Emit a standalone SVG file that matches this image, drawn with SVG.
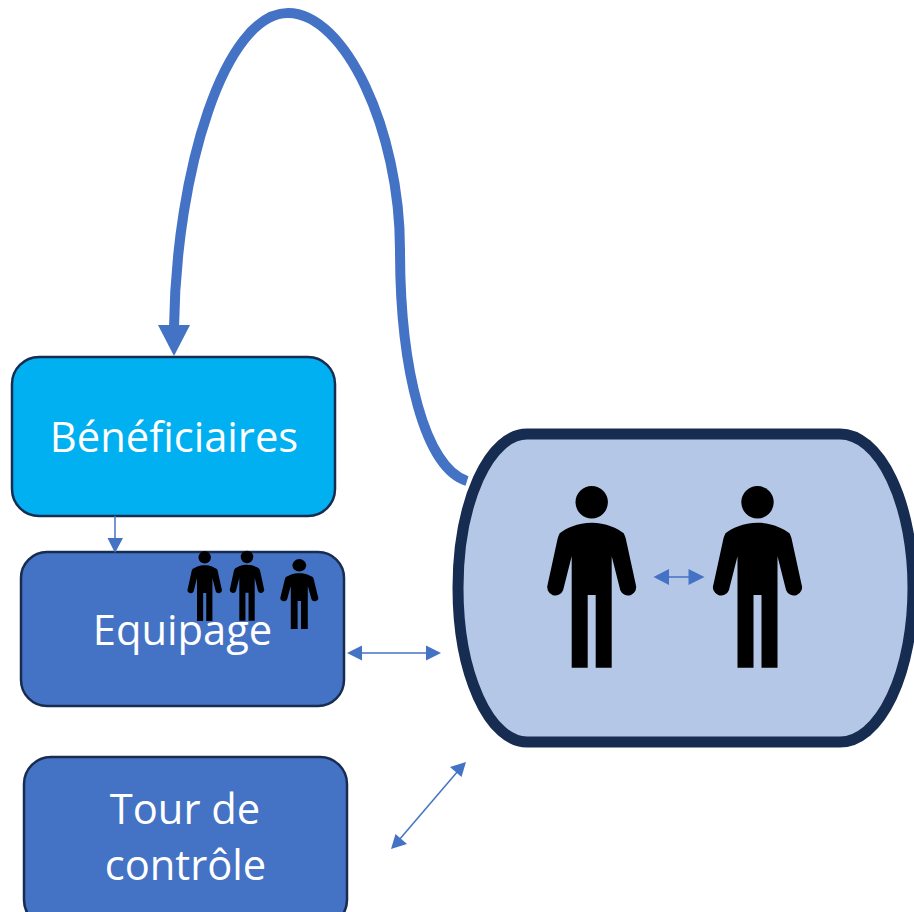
<svg xmlns="http://www.w3.org/2000/svg" width="914" height="912" viewBox="0 0 914 912">
<style>
.box{stroke:#172c51;stroke-width:2.5}
.lbl{font-family:"Open Sans","Noto Sans","Liberation Sans",sans-serif;font-size:41.700px;fill:#fff;text-anchor:middle}
.thin{fill:none;stroke:#4472c4;stroke-width:1.5}
.head{fill:#4472c4}
</style>
<defs>
<g id="person">
<circle cx="0" cy="0" r="16.200" fill="#000"/>
<path fill="#000" d="M0 20.400C-14 20.400-26 26-32 31Q-33 33-34 36L-44 82A8 8 0 0 0-28.600 88L-20 54V165.400H-4V92.700H4V165.400H20V54L28.600 88A8 8 0 0 0 44 82L34 36Q33 33 32 31C26 26 14 20.400 0 20.400Z"/>
</g>
</defs>
<rect width="914" height="912" fill="#fff"/>
<g id="beneficiaires">
<rect class="box" x="12" y="357" width="323" height="159" rx="27" fill="#00b0f0"/>
<text class="lbl" x="174" y="452">Bénéficiaires</text>
</g>
<g id="equipage">
<rect class="box" x="21" y="552" width="323" height="154" rx="26" fill="#4472c4"/>
<text class="lbl" x="182.500" y="645">Equipage</text>
<use href="#person" transform="translate(204.700 557.300) scale(.385)"/>
<use href="#person" transform="translate(247 557) scale(.385)"/>
<use href="#person" transform="translate(299.300 565.300) scale(.425 .385)"/>
</g>
<g id="tour">
<rect class="box" x="24" y="757" width="323" height="170" rx="27" fill="#4472c4"/>
<text class="lbl" x="185" y="824">Tour de</text>
<text class="lbl" x="185.500" y="880">contrôle</text>
</g>
<g id="groupe">
<path d="M527 434H840A73 154 0 0 1 840 742H527A69 154 0 0 1 527 434Z" fill="#b4c7e7" stroke="#172c51" stroke-width="11"/>
<use href="#person" x="591.700" y="502.300"/>
<use href="#person" x="757.500" y="502.300"/>
</g>
<g id="connectors">
<path d="M467 481C425 468 400 370 400 250C400 130 345 13 288 13C225 13 176 170 174 328" fill="none" stroke="#4472c4" stroke-width="10"/>
<polygon class="head" points="158,325 190,325 174,356"/>
<path class="thin" d="M115 516V540"/>
<polygon class="head" points="107.500,538 123,538 115,553"/>
<path class="thin" d="M358 653H430"/>
<polygon class="head" points="347,653 362,645.500 362,660.500"/>
<polygon class="head" points="441,653 426,645.500 426,660.500"/>
<path class="thin" d="M399 840L458 771"/>
<polygon class="head" points="391,849 395.500,834 407,844"/>
<polygon class="head" points="466,762 461.500,777 450,767"/>
<path class="thin" d="M665 577H693"/>
<polygon class="head" points="653.500,577 669,569 669,585"/>
<polygon class="head" points="704.500,577 688.500,569 688.500,585"/>
</g>
</svg>
